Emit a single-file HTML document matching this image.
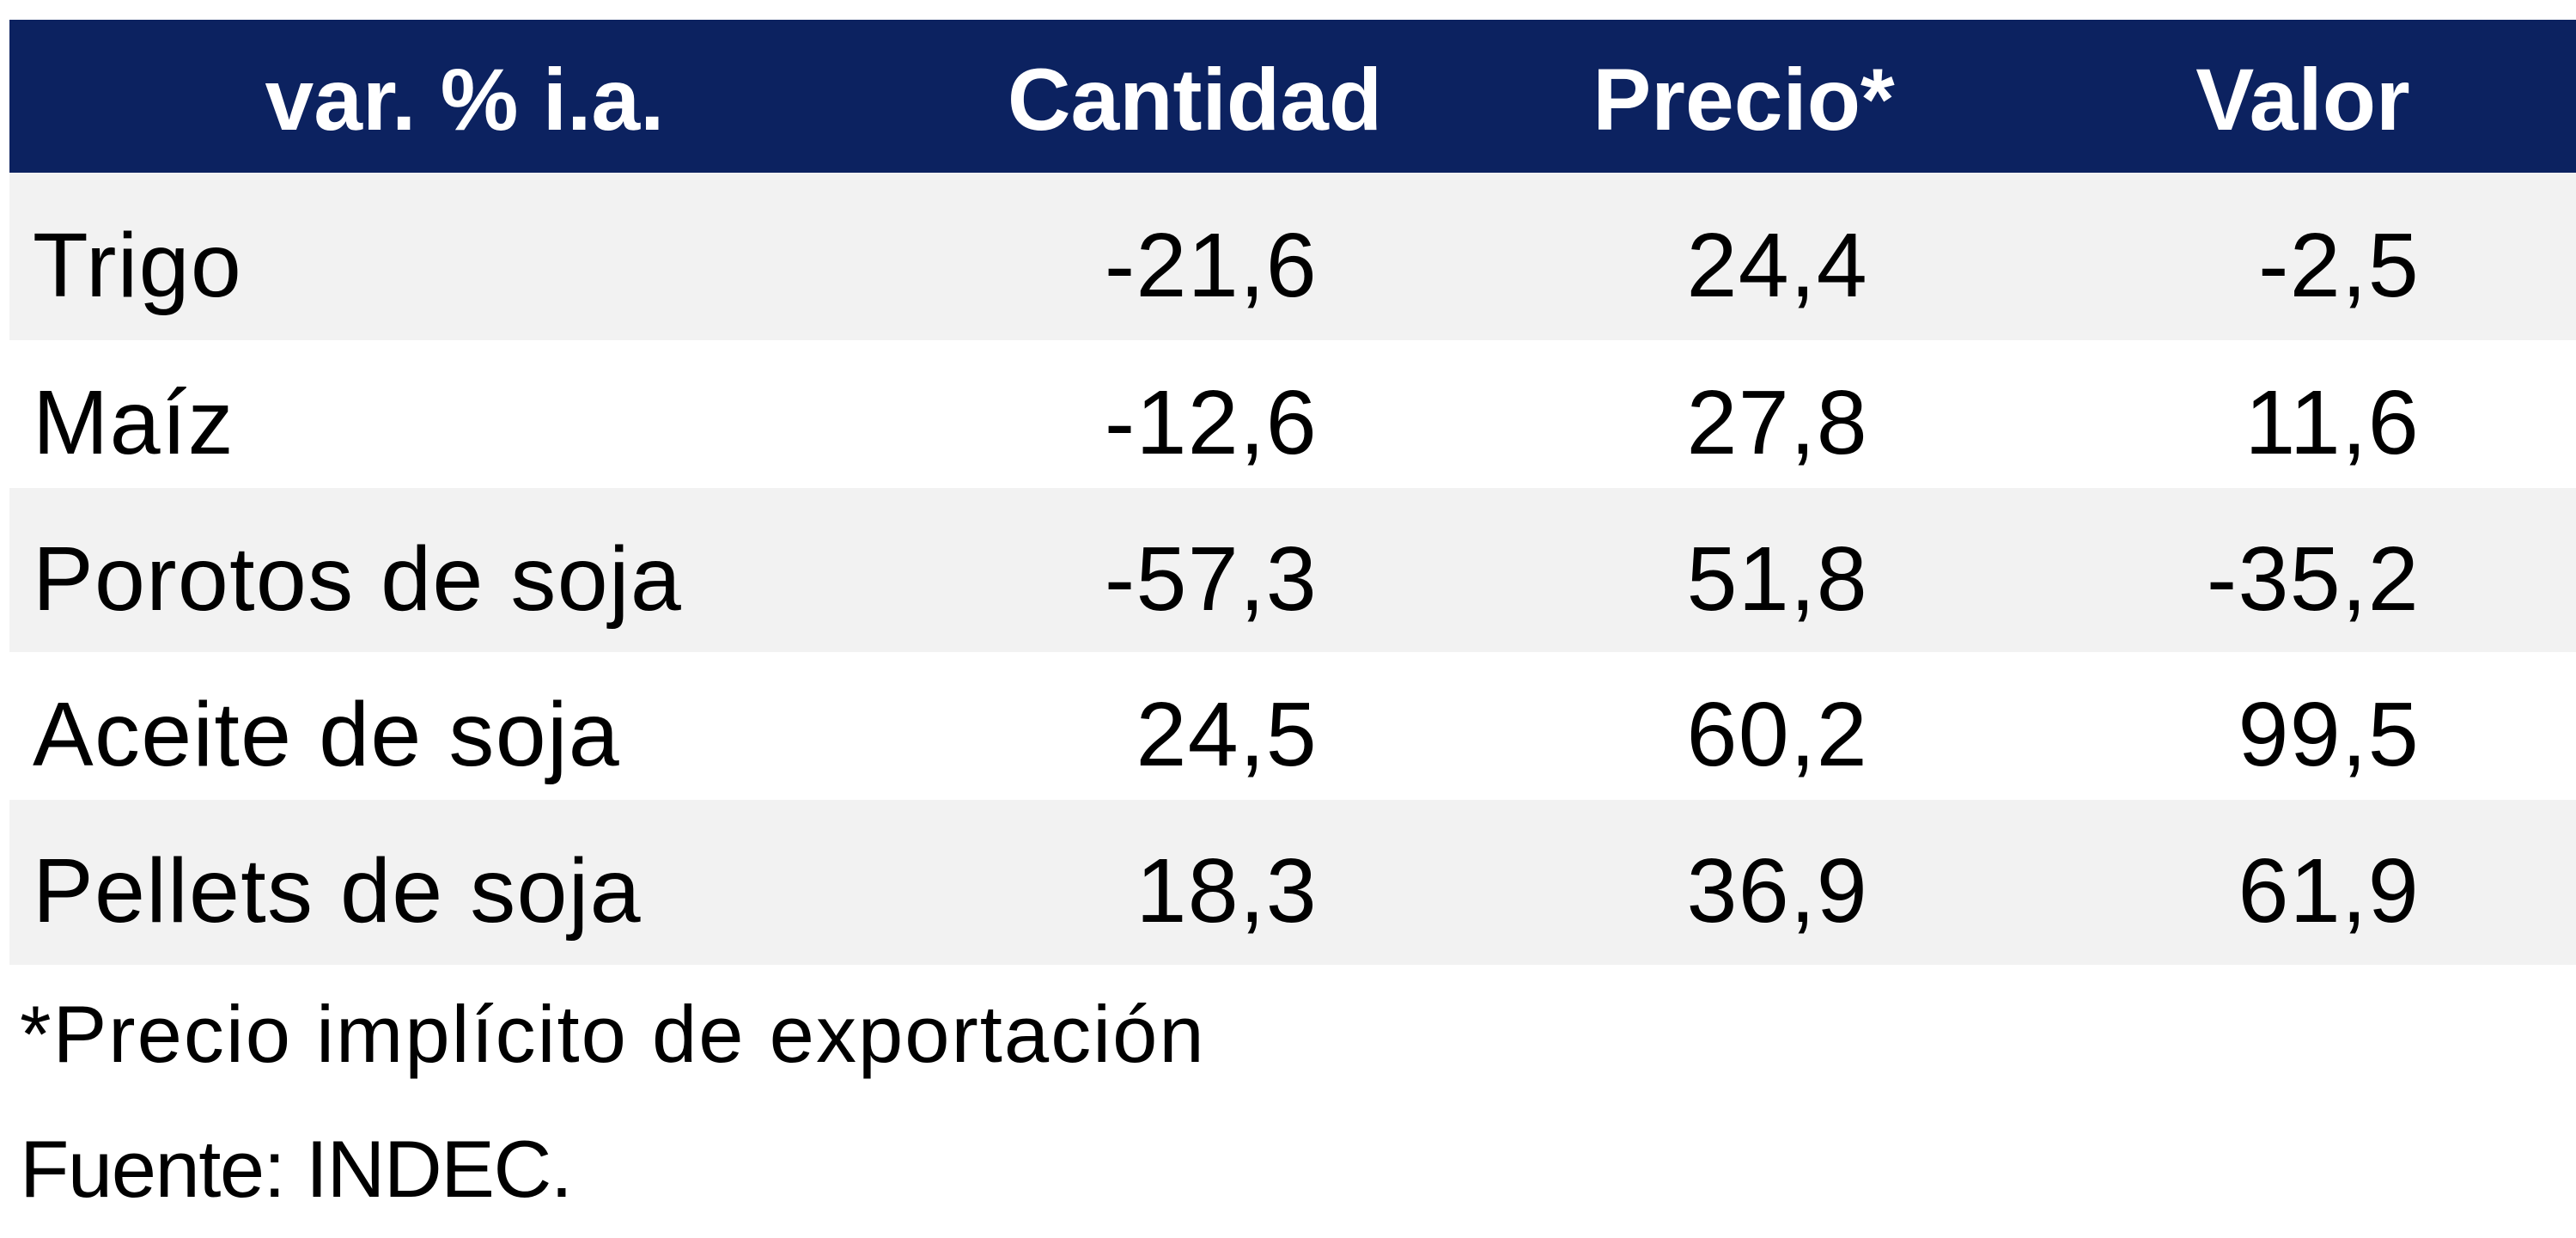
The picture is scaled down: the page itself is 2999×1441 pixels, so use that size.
<!DOCTYPE html>
<html><head><meta charset="utf-8"><style>
body{margin:0;width:2999px;height:1441px;background:#fff;position:relative;overflow:hidden;font-family:"Liberation Sans",Arial,sans-serif;color:#000}
.hdr{position:absolute;left:11px;top:23px;width:2988px;height:178px;background:#0c2260}
.h{position:absolute;top:27px;height:178px;line-height:178px;color:#fff;font-weight:bold;font-size:102px;transform:translateX(-50%);white-space:nowrap}
.row{position:absolute;left:11px;width:2988px}
.g{background:#f2f2f2}
.c{position:absolute;font-size:106px;white-space:nowrap;letter-spacing:1.3px}
.fn{position:absolute;left:23px;font-size:94px;white-space:nowrap}
</style></head><body>
<div class="hdr"></div>
<div class="h" style="left:541px">var. % i.a.</div>
<div class="h" style="left:1391px">Cantidad</div>
<div class="h" style="left:2030px">Precio*</div>
<div class="h" style="left:2681px">Valor</div>
<div id="rows"></div>
<div class="fn" style="top:1150px;letter-spacing:2px">*Precio implícito de exportación</div>
<div class="fn" style="top:1307px;letter-spacing:-1.5px">Fuente: INDEC.</div>
<script>
const products=["Trigo","Maíz","Porotos de soja","Aceite de soja","Pellets de soja"];
const cantidad=["-21,6","-12,6","-57,3","24,5","18,3"];
const precio=["24,4","27,8","51,8","60,2","36,9"];
const valor=["-2,5","11,6","-35,2","99,5","61,9"];
const bounds=[201,396,568,759,931,1123];
const rights=[1534,2175,2817];
const root=document.getElementById('rows');
products.forEach((p,i)=>{
  const top=bounds[i],h=bounds[i+1]-bounds[i];
  const r=document.createElement('div');
  r.className='row'+(i%2===0?' g':'');
  r.style.top=top+'px';r.style.height=h+'px';
  
  
  root.appendChild(r);
  const mk=(txt,x,right,name)=>{
    const d=document.createElement('div');
    d.className='c';d.textContent=txt;
    d.style.top=(top+h/2-52)+'px';d.style.lineHeight='124px';
    if(right){d.style.right=(2999-x)+'px';}else{d.style.left=x+'px';}
    
    
    root.appendChild(d);
  };
  mk(p,38,false,'product-label');
  mk(cantidad[i],rights[0],true,'cantidad-value');
  mk(precio[i],rights[1],true,'precio-value');
  mk(valor[i],rights[2],true,'valor-value');
});
</script>
</body></html>
